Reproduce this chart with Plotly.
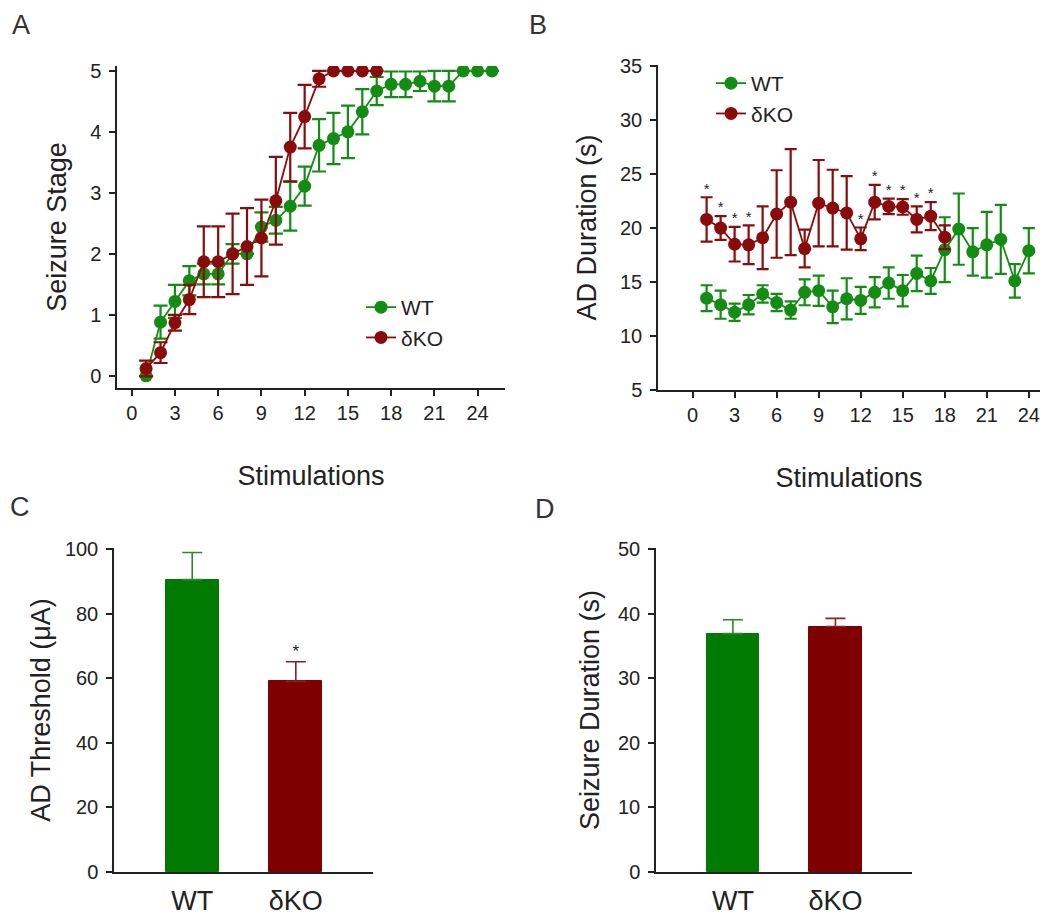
import plotly.graph_objects as go

# Panel A - seizure stage per stimulation
stim_wt_a = list(range(1, 26))
wt_stage = [0.0, 0.88, 1.22, 1.56, 1.67, 1.67, 2.0, 2.0, 2.44, 2.55, 2.78, 3.11, 3.78,
            3.89, 4.0, 4.33, 4.67, 4.78, 4.78, 4.83, 4.75, 4.75, 5.0, 5.0, 5.0]
wt_stage_err = [0.0, 0.27, 0.27, 0.24, 0.17, 0.17, 0.16, 0.0, 0.24, 0.22, 0.4, 0.32, 0.43,
                0.42, 0.43, 0.37, 0.23, 0.21, 0.21, 0.16, 0.25, 0.25, 0.0, 0.0, 0.0]
stim_ko_a = list(range(1, 18))
ko_stage = [0.12, 0.38, 0.87, 1.25, 1.87, 1.87, 2.0, 2.12, 2.26, 2.87, 3.75, 4.25, 4.87,
            5.0, 5.0, 5.0, 5.0]
ko_stage_err = [0.13, 0.17, 0.13, 0.24, 0.58, 0.58, 0.66, 0.63, 0.63, 0.72, 0.56, 0.52, 0.13,
                0.0, 0.0, 0.0, 0.0]

# Panel B - AD duration per stimulation
stim_wt_b = list(range(1, 25))
wt_ad = [13.5, 12.9, 12.2, 12.9, 13.9, 13.1, 12.4, 14.05, 14.2, 12.7, 13.45, 13.3, 14.05,
         14.9, 14.2, 15.8, 15.1, 18.0, 19.9, 17.8, 18.45, 18.95, 15.1, 17.9]
wt_ad_err = [1.2, 1.3, 0.8, 0.9, 0.8, 0.8, 0.8, 1.2, 1.4, 1.5, 1.9, 1.25, 1.4,
             1.45, 1.45, 1.65, 1.2, 3.0, 3.3, 2.2, 3.05, 3.2, 1.55, 2.1]
stim_ko_b = list(range(1, 19))
ko_ad = [20.8, 20.0, 18.5, 18.45, 19.1, 21.3, 22.4, 18.1, 22.3, 21.85, 21.4, 19.0, 22.4,
         22.0, 21.95, 20.8, 21.1, 19.15]
ko_ad_err = [2.05, 1.1, 1.6, 1.8, 2.9, 4.05, 4.9, 1.75, 4.0, 3.55, 3.4, 1.05, 1.6,
             0.72, 0.72, 1.2, 1.3, 1.1]
sig_b = [1, 2, 3, 4, 12, 13, 14, 15, 16, 17]

# Panels C and D - group means
groups = ["WT", "δKO"]
threshold = [90.5, 59.0]
threshold_err = [8.4, 6.1]
seizure_dur = [36.9, 38.0]
seizure_dur_err = [2.15, 1.25]

GREEN = "#138c13"
RED = "#8a0b0b"
BAR_GREEN = "#007a00"
BAR_RED = "#7f0000"
FONT = "Liberation Sans, Arial, sans-serif"
INK = "#222222"

W, H = 1050, 918
OFF = 8  # page body margin shifts the figure by this much


def fx(px):
    return (px - OFF) / W


def fy(px):
    return 1 - (px - OFF) / H


fig = go.Figure()


def line_trace(x, y, err, color, name, xa, ya, legend, width):
    return go.Scatter(
        x=x, y=y, name=name, mode="lines+markers",
        line=dict(color=color, width=1.8),
        marker=dict(color=color, size=13),
        error_y=dict(type="data", array=err, color=color, thickness=2.2, width=width),
        xaxis=xa, yaxis=ya, legend=legend,
    )


fig.add_trace(line_trace(stim_wt_a, wt_stage, wt_stage_err, GREEN, "WT", "x", "y", "legend", 7))
fig.add_trace(line_trace(stim_ko_a, ko_stage, ko_stage_err, RED, "δKO", "x", "y", "legend", 7))
fig.add_trace(line_trace(stim_wt_b, wt_ad, wt_ad_err, GREEN, "WT", "x2", "y2", "legend2", 6))
fig.add_trace(line_trace(stim_ko_b, ko_ad, ko_ad_err, RED, "δKO", "x2", "y2", "legend2", 6))

# significance stars above the δKO error bars
star_y = [ko_ad[s - 1] + ko_ad_err[s - 1] for s in sig_b]
fig.add_trace(go.Scatter(
    x=sig_b, y=star_y, mode="text", text=["*"] * len(sig_b), textposition="top center",
    textfont=dict(size=15, color=INK, family=FONT), showlegend=False,
    xaxis="x2", yaxis="y2", hoverinfo="skip",
))

# bar panels
for xa, ya, vals, errs in [("x3", "y3", threshold, threshold_err),
                           ("x4", "y4", seizure_dur, seizure_dur_err)]:
    for g, v, e, fc, ec in zip(groups, vals, errs, [BAR_GREEN, BAR_RED], ["#2a8a2a", "#8a2222"]):
        fig.add_trace(go.Bar(
            x=[g], y=[v], width=0.51, marker=dict(color=fc, line=dict(color=fc, width=1)),
            error_y=dict(type="data", symmetric=False, array=[e], arrayminus=[0],
                         color=ec, thickness=1.6, width=10),
            showlegend=False, xaxis=xa, yaxis=ya,
        ))

fig.add_trace(go.Scatter(
    x=[groups[1]], y=[threshold[1] + threshold_err[1]], mode="text", text=["*"],
    textposition="top center", textfont=dict(size=17, color=INK, family=FONT),
    showlegend=False, xaxis="x3", yaxis="y3", hoverinfo="skip",
))

axis_common = dict(showline=True, linecolor=INK, linewidth=1.5, showgrid=False,
                   zeroline=False, ticks="outside", ticklen=6, tickwidth=1.5,
                   tickcolor=INK, tickfont=dict(size=20, color=INK, family=FONT),
                   title_font=dict(size=27, color=INK, family=FONT))

fig.update_layout(
    width=W, height=H, margin=dict(l=0, r=0, t=0, b=0, autoexpand=False),
    paper_bgcolor="white", plot_bgcolor="white",
    font=dict(family=FONT, color=INK),
    xaxis=dict(axis_common, domain=[fx(117), fx(505)], range=[-1.02, 25.9],
               tickvals=list(range(0, 25, 3)), title_text="Stimulations", title_standoff=43,
               anchor="y"),
    yaxis=dict(axis_common, domain=[fy(388), fy(66)], range=[-0.2, 5.08],
               tickvals=[0, 1, 2, 3, 4, 5], title_text="Seizure Stage", title_standoff=16,
               anchor="x", ticklabelstandoff=4),
    xaxis2=dict(axis_common, domain=[fx(658), fx(1040)], range=[-2.47, 24.8],
                tickvals=list(range(0, 25, 3)), title_text="Stimulations", title_standoff=43,
                anchor="y2"),
    yaxis2=dict(axis_common, domain=[fy(390), fy(65)], range=[5, 35.1],
                tickvals=list(range(5, 36, 5)), title_text="AD Duration (s)", title_standoff=16,
                anchor="x2", ticklabelstandoff=4),
    xaxis3=dict(axis_common, domain=[fx(114), fx(373)], range=[-0.755, 1.745],
                ticks="", tickfont=dict(size=27, color=INK, family=FONT), anchor="y3",
                ticklabelstandoff=4),
    yaxis3=dict(axis_common, domain=[fy(872), fy(548)], range=[0, 100.3],
                tickvals=list(range(0, 101, 20)), title_text="AD Threshold (μA)",
                title_standoff=6, anchor="x3", ticklabelstandoff=4),
    xaxis4=dict(axis_common, domain=[fx(656), fx(912)], range=[-0.75, 1.747],
                ticks="", tickfont=dict(size=27, color=INK, family=FONT), anchor="y4",
                ticklabelstandoff=4),
    yaxis4=dict(axis_common, domain=[fy(872), fy(548)], range=[0, 50.15],
                tickvals=list(range(0, 51, 10)), title_text="Seizure Duration (s)",
                title_standoff=11, anchor="x4", ticklabelstandoff=4),
    legend=dict(x=fx(361), y=fy(287), xanchor="left", yanchor="top",
                font=dict(size=21, color=INK, family=FONT), bgcolor="rgba(0,0,0,0)",
                tracegroupgap=0),
    legend2=dict(x=fx(711), y=fy(63), xanchor="left", yanchor="top",
                 font=dict(size=21, color=INK, family=FONT), bgcolor="rgba(0,0,0,0)",
                 tracegroupgap=0),
    bargap=0,
)

# panel letters, kept inside the figure so they are not clipped
for letter, lx, ly, anchor in [("A", 10, 8, "top"), ("B", 527, 8, "top"),
                               ("C", 8, 507, "middle"), ("D", 533, 509, "middle")]:
    fig.add_annotation(text=letter, x=fx(lx), y=fy(ly), xref="paper", yref="paper",
                       xanchor="left", yanchor=anchor, showarrow=False,
                       font=dict(size=27, color="#333333", family=FONT))

fig.write_html("out.html")
